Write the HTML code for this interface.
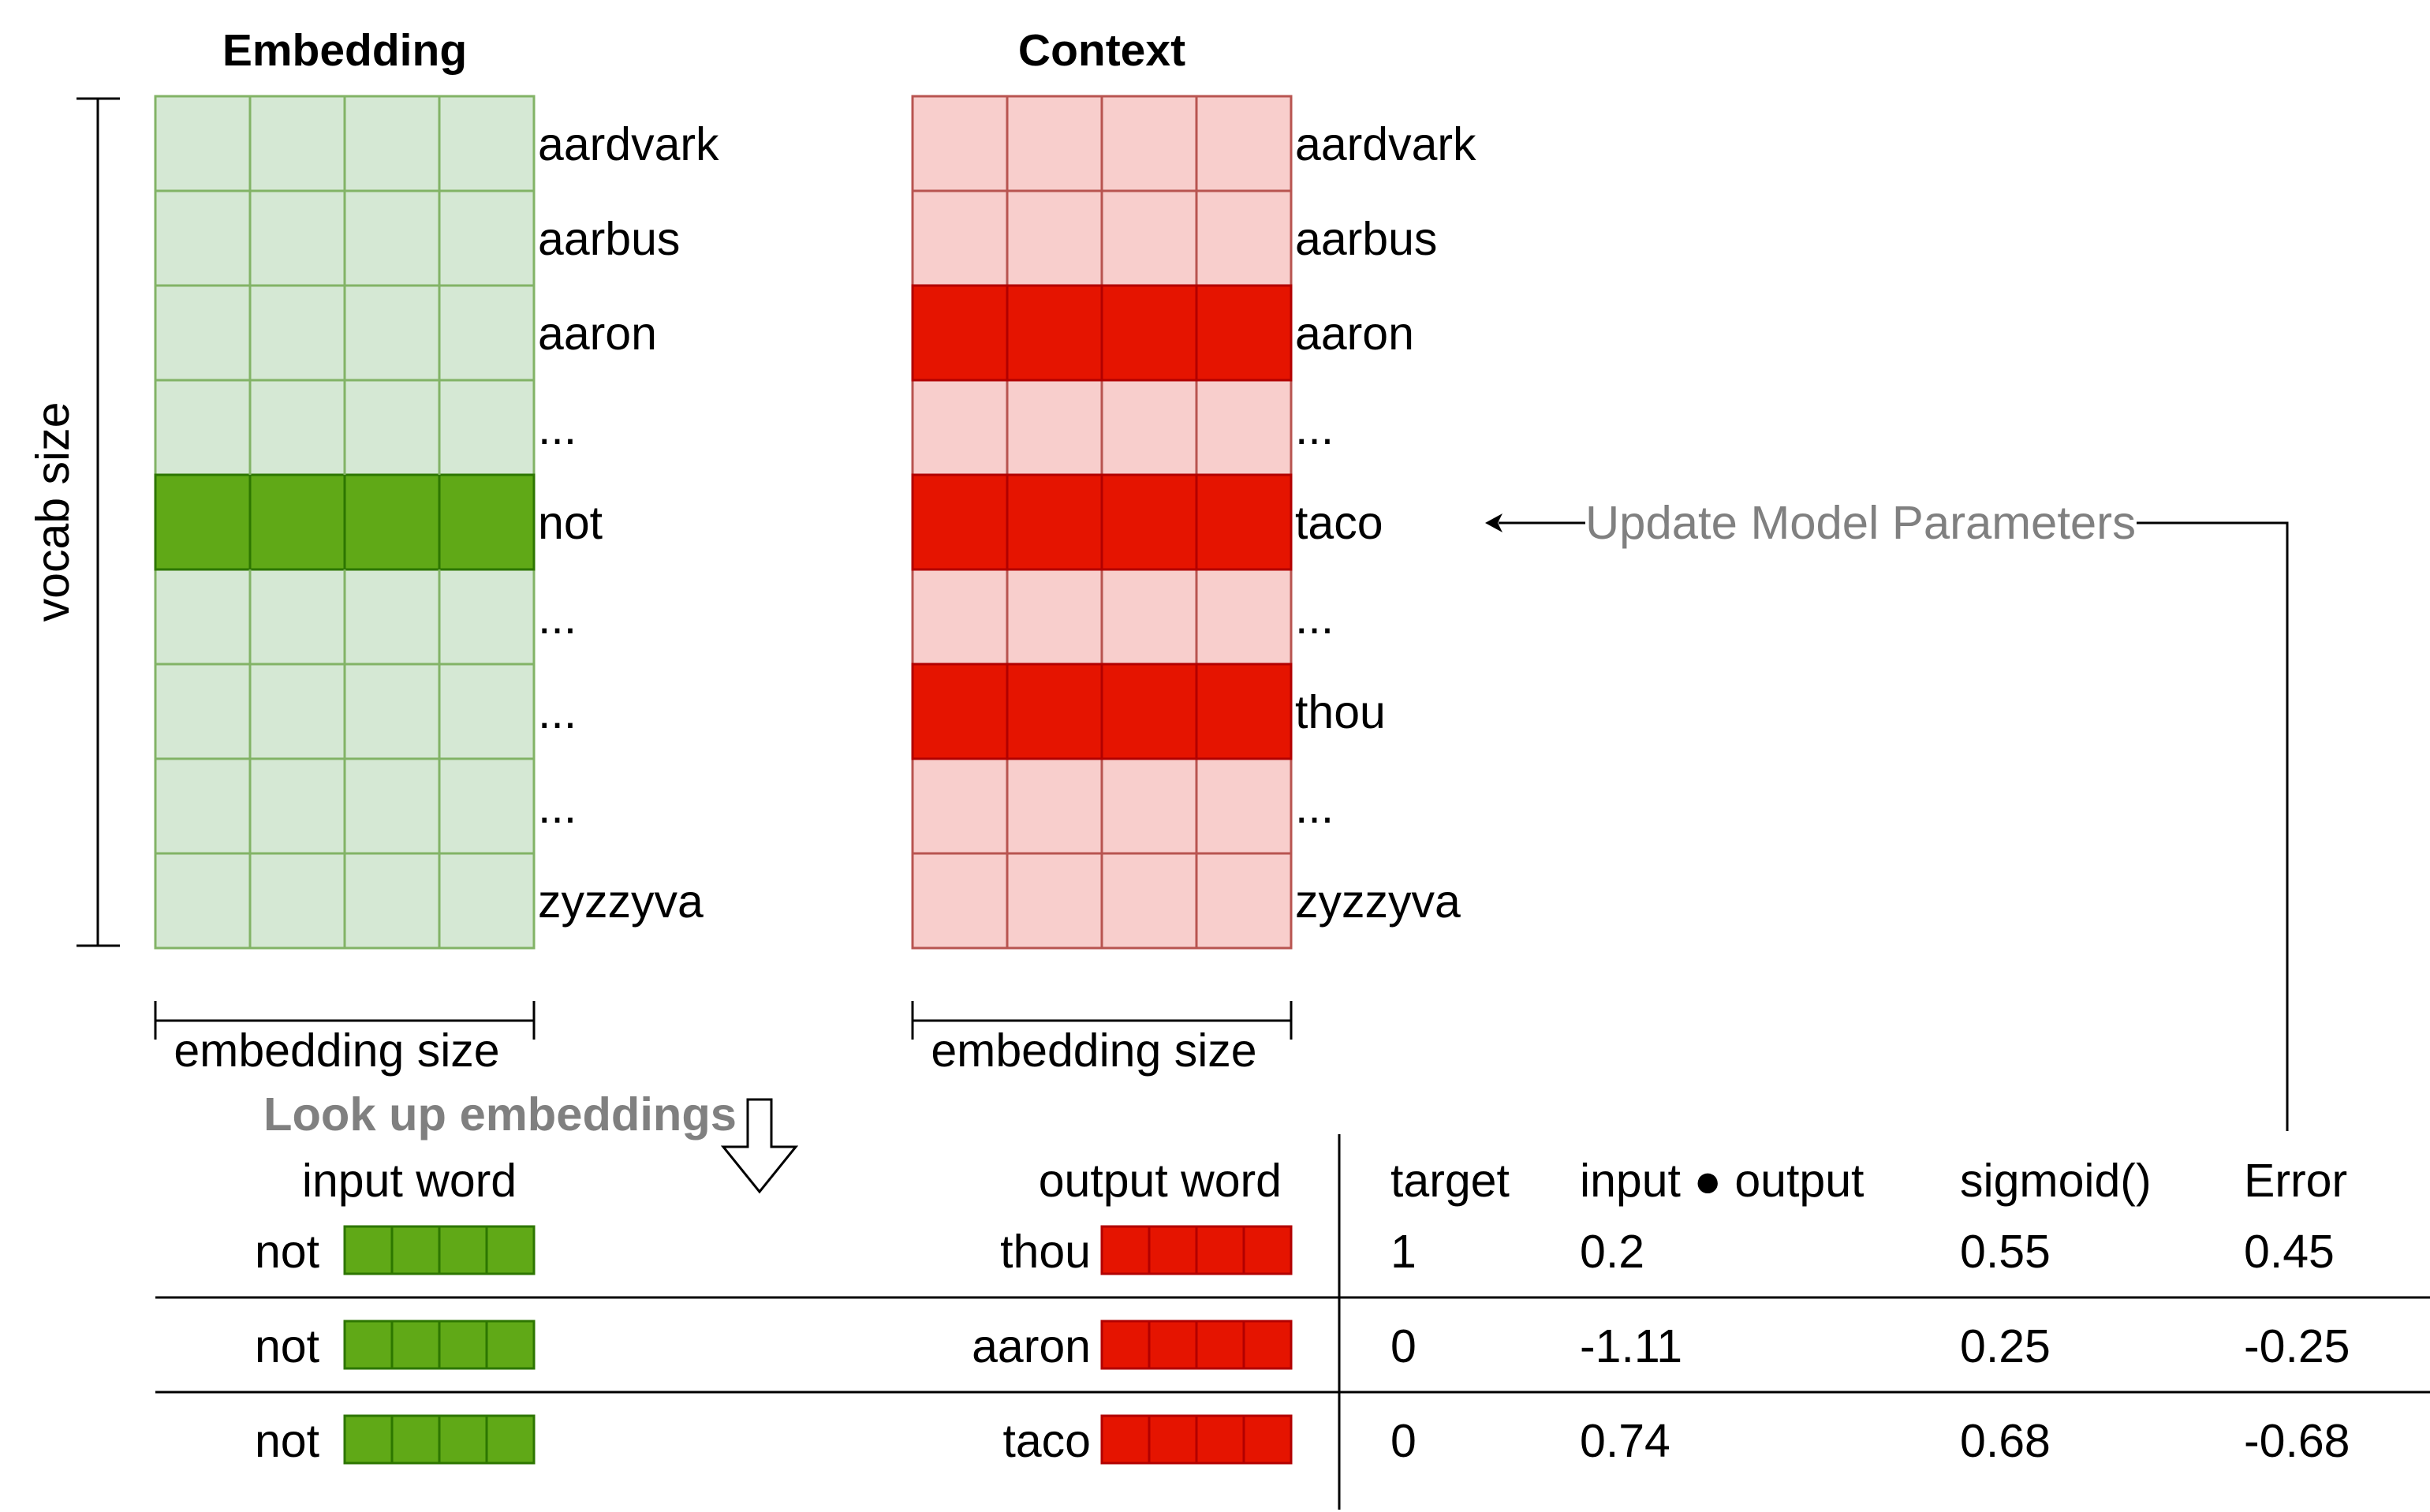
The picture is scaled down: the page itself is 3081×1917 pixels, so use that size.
<!DOCTYPE html>
<html><head><meta charset="utf-8"><style>
html,body{margin:0;padding:0;background:#fff;}
svg{display:block;}
text{font-family:"Liberation Sans",sans-serif;}
</style></head><body>
<svg width="3081" height="1917" viewBox="0 0 3081 1917" xmlns="http://www.w3.org/2000/svg">
<rect width="3081" height="1917" fill="#fff"/>
<text x="437" y="83" font-size="57" font-weight="bold" text-anchor="middle">Embedding</text>
<text x="1397" y="83" font-size="57" font-weight="bold" text-anchor="middle">Context</text>

<g stroke="#82b366" stroke-width="3" fill="#d5e8d4">
<rect x="197" y="122" width="480" height="1080"/>
</g>
<rect x="197" y="602" width="480" height="120" fill="#60a917" stroke="#2d7600" stroke-width="3"/>
<g stroke="#82b366" stroke-width="3">
<line x1="317" y1="122" x2="317" y2="602"/><line x1="437" y1="122" x2="437" y2="602"/><line x1="557" y1="122" x2="557" y2="602"/>
<line x1="317" y1="722" x2="317" y2="1202"/><line x1="437" y1="722" x2="437" y2="1202"/><line x1="557" y1="722" x2="557" y2="1202"/>
<line x1="197" y1="242" x2="677" y2="242"/><line x1="197" y1="362" x2="677" y2="362"/><line x1="197" y1="482" x2="677" y2="482"/>
<line x1="197" y1="842" x2="677" y2="842"/><line x1="197" y1="962" x2="677" y2="962"/><line x1="197" y1="1082" x2="677" y2="1082"/>
</g>
<g stroke="#2d7600" stroke-width="3">
<line x1="317" y1="602" x2="317" y2="722"/><line x1="437" y1="602" x2="437" y2="722"/><line x1="557" y1="602" x2="557" y2="722"/>
</g>

<rect x="1157" y="122" width="480" height="1080" fill="#f8cecc" stroke="#b85450" stroke-width="3"/>
<g stroke="#b85450" stroke-width="3">
<line x1="1277" y1="122" x2="1277" y2="1202"/><line x1="1397" y1="122" x2="1397" y2="1202"/><line x1="1517" y1="122" x2="1517" y2="1202"/>
<line x1="1157" y1="242" x2="1637" y2="242"/><line x1="1157" y1="482" x2="1637" y2="482"/><line x1="1157" y1="722" x2="1637" y2="722"/>
<line x1="1157" y1="962" x2="1637" y2="962"/><line x1="1157" y1="1082" x2="1637" y2="1082"/>
</g>
<g fill="#e51400" stroke="#b20000" stroke-width="3">
<rect x="1157" y="362" width="480" height="120"/>
<rect x="1157" y="602" width="480" height="120"/>
<rect x="1157" y="842" width="480" height="120"/>
</g>
<g stroke="#b20000" stroke-width="3">
<line x1="1277" y1="362" x2="1277" y2="482"/><line x1="1397" y1="362" x2="1397" y2="482"/><line x1="1517" y1="362" x2="1517" y2="482"/>
<line x1="1277" y1="602" x2="1277" y2="722"/><line x1="1397" y1="602" x2="1397" y2="722"/><line x1="1517" y1="602" x2="1517" y2="722"/>
<line x1="1277" y1="842" x2="1277" y2="962"/><line x1="1397" y1="842" x2="1397" y2="962"/><line x1="1517" y1="842" x2="1517" y2="962"/>
</g>

<g font-size="59">
<text x="682" y="203">aardvark</text><text x="682" y="323">aarbus</text><text x="682" y="443">aaron</text>
<text x="682" y="563">...</text><text x="682" y="683">not</text><text x="682" y="803">...</text>
<text x="682" y="923">...</text><text x="682" y="1043">...</text><text x="682" y="1163">zyzzyva</text>
<text x="1642" y="203">aardvark</text><text x="1642" y="323">aarbus</text><text x="1642" y="443">aaron</text>
<text x="1642" y="563">...</text><text x="1642" y="683">taco</text><text x="1642" y="803">...</text>
<text x="1642" y="923">thou</text><text x="1642" y="1043">...</text><text x="1642" y="1163">zyzzyva</text>
</g>

<g stroke="#000" stroke-width="3">
<line x1="124" y1="125" x2="124" y2="1199"/>
<line x1="97" y1="125" x2="152" y2="125"/>
<line x1="97" y1="1199" x2="152" y2="1199"/>
</g>
<text x="0" y="0" font-size="59" text-anchor="middle" transform="translate(87,649) rotate(-90)">vocab size</text>

<g stroke="#000" stroke-width="3">
<line x1="197" y1="1294" x2="677" y2="1294"/><line x1="197" y1="1269" x2="197" y2="1318"/><line x1="677" y1="1269" x2="677" y2="1318"/>
<line x1="1157" y1="1294" x2="1637" y2="1294"/><line x1="1157" y1="1269" x2="1157" y2="1318"/><line x1="1637" y1="1269" x2="1637" y2="1318"/>
</g>
<text x="427" y="1352" font-size="59" text-anchor="middle">embedding size</text>
<text x="1387" y="1352" font-size="59" text-anchor="middle">embedding size</text>

<g stroke="#000" stroke-width="3" fill="none">
<line x1="1900" y1="663" x2="2010" y2="663"/>
<polyline points="2709,663 2900,663 2900,1434"/>
</g>
<polygon points="1883,663 1905,651 1899,663 1905,675" fill="#000"/>
<text x="2010" y="683" font-size="59" fill="#808080" textLength="698" lengthAdjust="spacingAndGlyphs">Update Model Parameters</text>

<text x="334" y="1433" font-size="59" font-weight="bold" fill="#808080" textLength="600" lengthAdjust="spacingAndGlyphs">Look up embeddings</text>
<polygon points="948,1394 978,1394 978,1454 1009,1454 963,1511 917,1454 948,1454" fill="#fff" stroke="#000" stroke-width="3"/>

<g stroke="#000" stroke-width="3">
<line x1="1698" y1="1438" x2="1698" y2="1914"/>
<line x1="197" y1="1645" x2="3081" y2="1645"/>
<line x1="197" y1="1765" x2="3081" y2="1765"/>
</g>

<g font-size="59">
<text x="519" y="1517" text-anchor="middle">input word</text>
<text x="1625" y="1517" text-anchor="end">output word</text>
<text x="1763" y="1517">target</text>
<text x="2003" y="1517">input ● output</text>
<text x="2485" y="1517">sigmoid()</text>
<text x="2845" y="1517">Error</text>
</g>

<g font-size="59">
<text x="405" y="1607" text-anchor="end">not</text>
<text x="405" y="1727" text-anchor="end">not</text>
<text x="405" y="1847" text-anchor="end">not</text>
<text x="1383" y="1607" text-anchor="end">thou</text>
<text x="1383" y="1727" text-anchor="end">aaron</text>
<text x="1383" y="1847" text-anchor="end">taco</text>
<text x="1763" y="1607">1</text><text x="2003" y="1607">0.2</text><text x="2485" y="1607">0.55</text><text x="2845" y="1607">0.45</text>
<text x="1763" y="1727">0</text><text x="2003" y="1727">-1.11</text><text x="2485" y="1727">0.25</text><text x="2845" y="1727">-0.25</text>
<text x="1763" y="1847">0</text><text x="2003" y="1847">0.74</text><text x="2485" y="1847">0.68</text><text x="2845" y="1847">-0.68</text>
</g>

<g stroke="#2d7600" stroke-width="3" fill="#60a917">
<rect x="437" y="1555" width="240" height="60"/>
<rect x="437" y="1675" width="240" height="60"/>
<rect x="437" y="1795" width="240" height="60"/>
<path d="M497 1555V1615M557 1555V1615M617 1555V1615M497 1675V1735M557 1675V1735M617 1675V1735M497 1795V1855M557 1795V1855M617 1795V1855" fill="none"/>
</g>
<g stroke="#b20000" stroke-width="3" fill="#e51400">
<rect x="1397" y="1555" width="240" height="60"/>
<rect x="1397" y="1675" width="240" height="60"/>
<rect x="1397" y="1795" width="240" height="60"/>
<path d="M1457 1555V1615M1517 1555V1615M1577 1555V1615M1457 1675V1735M1517 1675V1735M1577 1675V1735M1457 1795V1855M1517 1795V1855M1577 1795V1855" fill="none"/>
</g>
</svg>
</body></html>
